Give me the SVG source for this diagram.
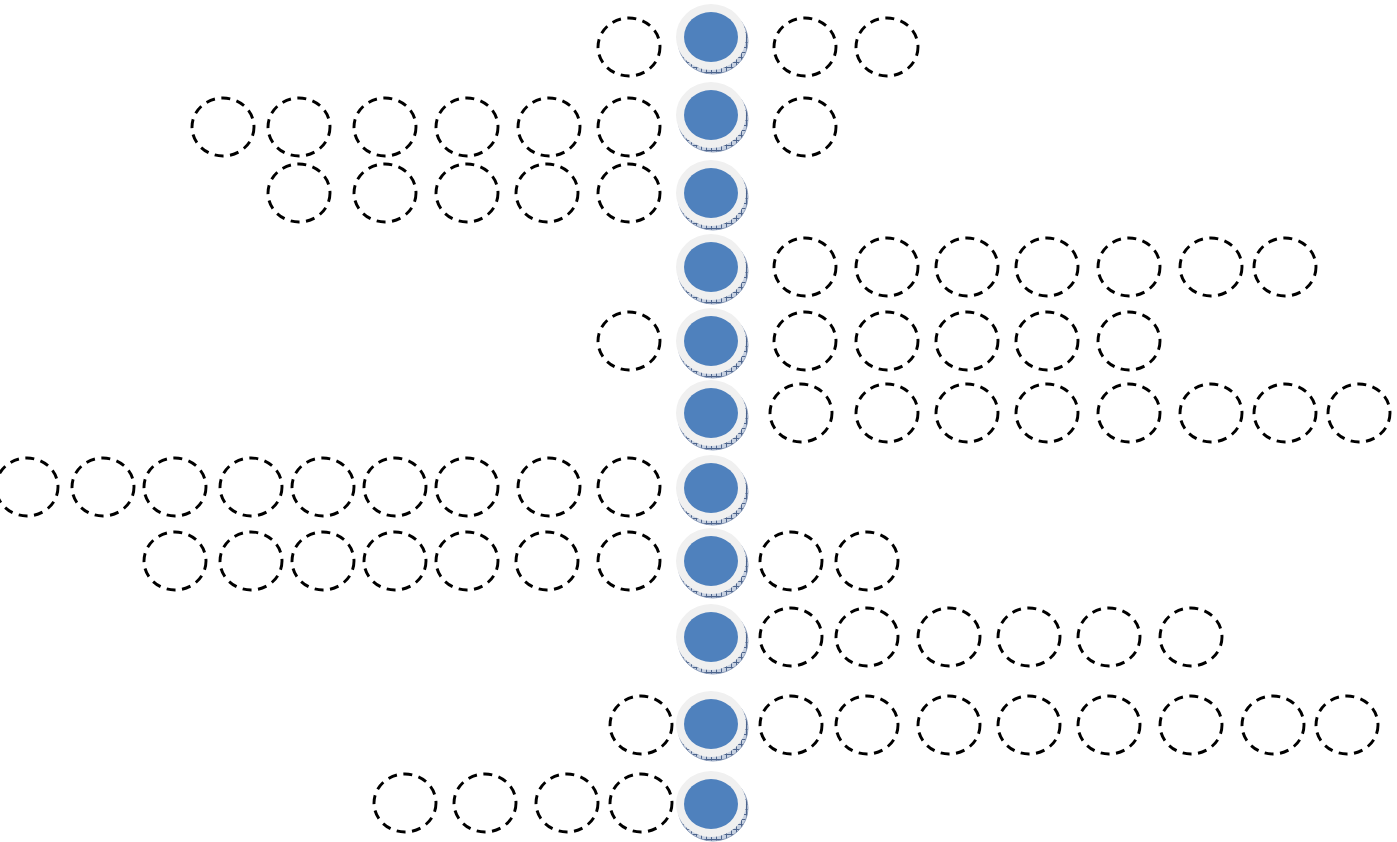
<svg xmlns="http://www.w3.org/2000/svg" width="1397" height="842" viewBox="0 0 1397 842">
<style>
.d{fill:none;stroke:#000;stroke-width:2.9;stroke-dasharray:9 6.5}
.side{fill:url(#hatch);stroke:#7f92b3;stroke-width:0.8}
.face{fill:#f0f0f0}
.core{fill:#4f81bd}
</style>
<defs>
<pattern id="hatch" width="5" height="5" patternUnits="userSpaceOnUse">
<rect width="5" height="5" fill="#c6d0e0"/>
<path d="M0 0.5H5M0.5 0V5" stroke="#4d648c" stroke-width="1"/>
</pattern>
<g id="disk">
<ellipse class="side" cx="2" cy="4" rx="35" ry="33"/>
<ellipse class="face" cx="0" cy="0" rx="35" ry="33"/>
<ellipse class="core" cx="0" cy="0" rx="27" ry="25"/>
</g>
<ellipse id="dc" class="d" cx="0" cy="0" rx="31" ry="29"/>
</defs>
<rect width="1397" height="842" fill="#fff"/>
<g id="connectors"/>
<g id="centers">
<g id="c1"><use href="#disk" x="711" y="37"/></g>
<g id="c2"><use href="#disk" x="711" y="115"/></g>
<g id="c3"><use href="#disk" x="711" y="193"/></g>
<g id="c4"><use href="#disk" x="711" y="267"/></g>
<g id="c5"><use href="#disk" x="711" y="341"/></g>
<g id="c6"><use href="#disk" x="711" y="413"/></g>
<g id="c7"><use href="#disk" x="711" y="488"/></g>
<g id="c8"><use href="#disk" x="711" y="561"/></g>
<g id="c9"><use href="#disk" x="711" y="637"/></g>
<g id="c10"><use href="#disk" x="711" y="724"/></g>
<g id="c11"><use href="#disk" x="711" y="804"/></g>
</g>
<g id="row1">
<g id="r1a"><use href="#dc" x="629" y="47"/></g>
<g id="r1b"><use href="#dc" x="805" y="47"/></g>
<g id="r1c"><use href="#dc" x="887" y="47"/></g>
</g>
<g id="row2">
<g id="r2a"><use href="#dc" x="223" y="127"/></g>
<g id="r2b"><use href="#dc" x="299" y="127"/></g>
<g id="r2c"><use href="#dc" x="385" y="127"/></g>
<g id="r2d"><use href="#dc" x="467" y="127"/></g>
<g id="r2e"><use href="#dc" x="549" y="127"/></g>
<g id="r2f"><use href="#dc" x="629" y="127"/></g>
<g id="r2g"><use href="#dc" x="805" y="127"/></g>
</g>
<g id="row3">
<g id="r3a"><use href="#dc" x="299" y="193"/></g>
<g id="r3b"><use href="#dc" x="385" y="193"/></g>
<g id="r3c"><use href="#dc" x="467" y="193"/></g>
<g id="r3d"><use href="#dc" x="547" y="193"/></g>
<g id="r3e"><use href="#dc" x="629" y="193"/></g>
</g>
<g id="row4">
<g id="r4a"><use href="#dc" x="805" y="267"/></g>
<g id="r4b"><use href="#dc" x="887" y="267"/></g>
<g id="r4c"><use href="#dc" x="967" y="267"/></g>
<g id="r4d"><use href="#dc" x="1047" y="267"/></g>
<g id="r4e"><use href="#dc" x="1129" y="267"/></g>
<g id="r4f"><use href="#dc" x="1211" y="267"/></g>
<g id="r4g"><use href="#dc" x="1285" y="267"/></g>
</g>
<g id="row5">
<g id="r5a"><use href="#dc" x="629" y="341"/></g>
<g id="r5b"><use href="#dc" x="805" y="341"/></g>
<g id="r5c"><use href="#dc" x="887" y="341"/></g>
<g id="r5d"><use href="#dc" x="967" y="341"/></g>
<g id="r5e"><use href="#dc" x="1047" y="341"/></g>
<g id="r5f"><use href="#dc" x="1129" y="341"/></g>
</g>
<g id="row6">
<g id="r6a"><use href="#dc" x="801" y="413"/></g>
<g id="r6b"><use href="#dc" x="887" y="413"/></g>
<g id="r6c"><use href="#dc" x="967" y="413"/></g>
<g id="r6d"><use href="#dc" x="1047" y="413"/></g>
<g id="r6e"><use href="#dc" x="1129" y="413"/></g>
<g id="r6f"><use href="#dc" x="1211" y="413"/></g>
<g id="r6g"><use href="#dc" x="1285" y="413"/></g>
<g id="r6h"><use href="#dc" x="1359" y="413"/></g>
</g>
<g id="row7">
<g id="r7a"><use href="#dc" x="27" y="487"/></g>
<g id="r7b"><use href="#dc" x="103" y="487"/></g>
<g id="r7c"><use href="#dc" x="175" y="487"/></g>
<g id="r7d"><use href="#dc" x="251" y="487"/></g>
<g id="r7e"><use href="#dc" x="323" y="487"/></g>
<g id="r7f"><use href="#dc" x="395" y="487"/></g>
<g id="r7g"><use href="#dc" x="467" y="487"/></g>
<g id="r7h"><use href="#dc" x="549" y="487"/></g>
<g id="r7i"><use href="#dc" x="629" y="487"/></g>
</g>
<g id="row8">
<g id="r8a"><use href="#dc" x="175" y="561"/></g>
<g id="r8b"><use href="#dc" x="251" y="561"/></g>
<g id="r8c"><use href="#dc" x="323" y="561"/></g>
<g id="r8d"><use href="#dc" x="395" y="561"/></g>
<g id="r8e"><use href="#dc" x="467" y="561"/></g>
<g id="r8f"><use href="#dc" x="547" y="561"/></g>
<g id="r8g"><use href="#dc" x="629" y="561"/></g>
<g id="r8h"><use href="#dc" x="791" y="561"/></g>
<g id="r8i"><use href="#dc" x="867" y="561"/></g>
</g>
<g id="row9">
<g id="r9a"><use href="#dc" x="791" y="637"/></g>
<g id="r9b"><use href="#dc" x="867" y="637"/></g>
<g id="r9c"><use href="#dc" x="949" y="637"/></g>
<g id="r9d"><use href="#dc" x="1029" y="637"/></g>
<g id="r9e"><use href="#dc" x="1109" y="637"/></g>
<g id="r9f"><use href="#dc" x="1191" y="637"/></g>
</g>
<g id="row10">
<g id="r10a"><use href="#dc" x="641" y="725"/></g>
<g id="r10b"><use href="#dc" x="791" y="725"/></g>
<g id="r10c"><use href="#dc" x="867" y="725"/></g>
<g id="r10d"><use href="#dc" x="949" y="725"/></g>
<g id="r10e"><use href="#dc" x="1029" y="725"/></g>
<g id="r10f"><use href="#dc" x="1109" y="725"/></g>
<g id="r10g"><use href="#dc" x="1191" y="725"/></g>
<g id="r10h"><use href="#dc" x="1273" y="725"/></g>
<g id="r10i"><use href="#dc" x="1347" y="725"/></g>
</g>
<g id="row11">
<g id="r11a"><use href="#dc" x="405" y="803"/></g>
<g id="r11b"><use href="#dc" x="485" y="803"/></g>
<g id="r11c"><use href="#dc" x="567" y="803"/></g>
<g id="r11d"><use href="#dc" x="641" y="803"/></g>
</g>
</svg>
